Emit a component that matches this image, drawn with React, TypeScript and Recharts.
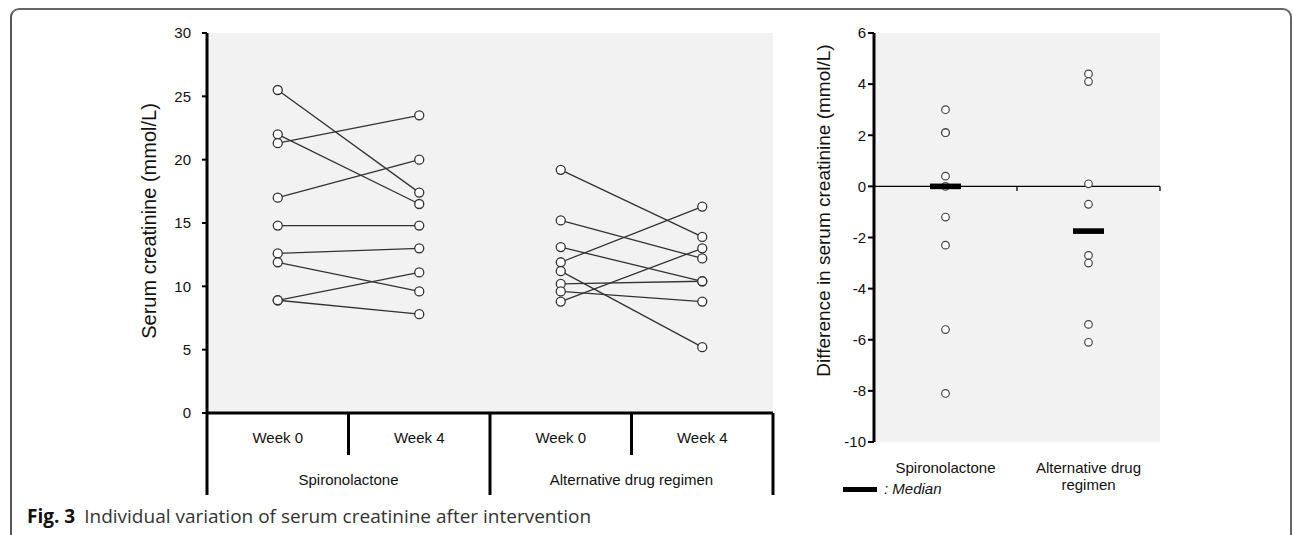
import React from 'react';
import { LineChart, Line, XAxis, YAxis, CartesianGrid, ScatterChart, Scatter, ReferenceLine, Text } from 'recharts';

// left panel: paired serum creatinine values
const timepoints = ['Week 0', 'Week 4', 'Week 0', 'Week 4'];
const groups = ['Spironolactone', 'Spironolactone', 'Alternative drug regimen', 'Alternative drug regimen'];

const spiroWeek0 = [25.5, 22.0, 21.3, 17.0, 14.8, 12.6, 11.9, 8.9, 8.9];
const spiroWeek4 = [17.4, 16.5, 23.5, 20.0, 14.8, 13.0, 9.6, 11.1, 7.8];
const altWeek0 = [19.2, 15.2, 13.1, 11.9, 11.2, 10.2, 9.6, 8.8];
const altWeek4 = [13.9, 12.2, 10.4, 16.3, 5.2, 10.4, 8.8, 13.0];

const creatinineTicks = [0, 5, 10, 15, 20, 25, 30];

// right panel: differences + medians
const diffGroups = ['Spironolactone', 'Alternative drug regimen'];
const diffGroupPos = [0.5, 1.5];
const spiroDiff = [3.0, 2.1, 2.1, 0.4, 0.0, -1.2, -2.3, -5.6, -8.1];
const altDiff = [4.4, 4.1, 0.1, -0.7, -2.7, -3.0, -5.4, -6.1];
const medians = [0, -1.75];
const diffTicks = [-10, -8, -6, -4, -2, 0, 2, 4, 6];

const FONT = '"Liberation Sans", Arial, sans-serif';
const INK = '#111';
const LINE = '#333';

const lineRows = timepoints.map((week, i) => {
  const row: Record<string, any> = { slot: i, week, group: groups[i] };
  spiroWeek0.forEach((v, j) => {
    row[`s${j}`] = i === 0 ? v : i === 1 ? spiroWeek4[j] : null;
  });
  altWeek0.forEach((v, j) => {
    row[`a${j}`] = i === 2 ? v : i === 3 ? altWeek4[j] : null;
  });
  return row;
});
const seriesKeys = [...spiroWeek0.map((_, j) => `s${j}`), ...altWeek0.map((_, j) => `a${j}`)];

const spiroPoints = spiroDiff.map((y) => ({ x: diffGroupPos[0], y }));
const altPoints = altDiff.map((y) => ({ x: diffGroupPos[1], y }));
const medianPoints = medians.map((y, i) => ({ x: diffGroupPos[i], y }));

// half a category band in the left panel
const HALF = (773 - 207) / 8;

const WeekTick = (props: any) => {
  const { x, y, payload } = props;
  const i = Number(payload.value);
  const lastInGroup = i === 1 || i === 3;
  return (
    <g>
      {i === 0 && <line x1={x - HALF} x2={x - HALF} y1={y} y2={y + 82} stroke="#000" strokeWidth={3} />}
      <line x1={x + HALF} x2={x + HALF} y1={y} y2={y + (lastInGroup ? 82 : 42)} stroke="#000" strokeWidth={3} />
      <text x={x} y={y + 30} textAnchor="middle" fontSize={15} fill={INK}>{timepoints[i]}</text>
      {lastInGroup && (
        <text x={x - HALF} y={y + 72} textAnchor="middle" fontSize={15} fill={INK}>{groups[i]}</text>
      )}
    </g>
  );
};

const GroupTick = (props: any) => {
  const { x, y, payload } = props;
  const i = diffGroupPos.indexOf(payload.value);
  return (
    <Text x={x} y={y + 20} width={140} textAnchor="middle" verticalAnchor="start" lineHeight={17} fontSize={15} fill={INK}>
      {diffGroups[i]}
    </Text>
  );
};

const axisTitle = (text: string, dx: number, dy: number, size: number) => (props: any) => {
  const { x, y, height } = props.viewBox;
  const cx = x + dx;
  const cy = y + height / 2 + dy;
  return (
    <text x={cx} y={cy} transform={`rotate(-90 ${cx} ${cy})`} textAnchor="middle" fontSize={size} fill={INK}>
      {text}
    </text>
  );
};

const hollowDot = (p: any) => (
  <circle cx={p.cx} cy={p.cy} r={3.8} fill="#fff" stroke="#444" strokeWidth={1.2} />
);
const medianBar = (p: any) => <rect x={p.cx - 15.5} y={p.cy - 2.8} width={31} height={5.6} fill="#000" />;

export default function App() {
  return (
    <div style={{ position: 'absolute', left: 0, top: 0, width: 1293, height: 535, overflow: 'hidden', background: '#fff', fontFamily: FONT }}>
      <div
        style={{
          position: 'absolute', left: 10, top: 8, width: 1282, height: 580, boxSizing: 'border-box',
          borderTop: '2px solid #666', borderLeft: '2px solid #555', borderRight: '2px solid #666', borderRadius: 9,
        }}
      />

      <div style={{ position: 'absolute', left: 0, top: 0 }}>
        <LineChart width={790} height={535} data={lineRows} margin={{ top: 33, right: 17, bottom: 32, left: 147 }} style={{ fontFamily: FONT }}>
          <CartesianGrid fill="#f2f2f2" horizontal={false} vertical={false} />
          <XAxis
            dataKey="slot"
            type="category"
            scale="band"
            height={90}
            axisLine={{ stroke: '#000', strokeWidth: 3 }}
            tickLine={false}
            tickSize={0}
            tickMargin={0}
            interval={0}
            tick={WeekTick}
          />
          <YAxis
            width={60}
            domain={[0, 30]}
            ticks={creatinineTicks}
            interval={0}
            axisLine={{ stroke: '#000', strokeWidth: 3 }}
            tickLine={{ stroke: '#000', strokeWidth: 2 }}
            tickSize={5}
            tickMargin={11}
            tick={{ fontSize: 15, fill: INK }}
            label={axisTitle('Serum creatinine (mmol/L)', 9, -2, 20)}
          />
          {seriesKeys.map((k) => (
            <Line
              key={k}
              dataKey={k}
              stroke={LINE}
              strokeWidth={1.3}
              connectNulls={false}
              dot={{ r: 4.5, fill: '#fff', stroke: LINE, strokeWidth: 1.3 }}
              activeDot={false}
              isAnimationActive={false}
            />
          ))}
        </LineChart>
      </div>

      <div style={{ position: 'absolute', left: 790, top: 0 }}>
        <ScatterChart width={503} height={535} margin={{ top: 33, right: 133, bottom: 33, left: 44 }} style={{ fontFamily: FONT }}>
          <CartesianGrid fill="#f2f2f2" horizontal={false} vertical={false} />
          <XAxis
            dataKey="x"
            type="number"
            domain={[0, 2]}
            ticks={diffGroupPos}
            interval={0}
            height={60}
            axisLine={false}
            tickLine={false}
            tickSize={0}
            tickMargin={0}
            tick={GroupTick}
          />
          <YAxis
            dataKey="y"
            type="number"
            width={40}
            domain={[-10, 6]}
            ticks={diffTicks}
            interval={0}
            axisLine={{ stroke: '#000', strokeWidth: 3 }}
            tickLine={{ stroke: '#000', strokeWidth: 2 }}
            tickSize={6}
            tickMargin={2}
            tick={{ fontSize: 15, fill: INK }}
            label={axisTitle('Difference in serum creatinine (mmol/L)', -4, -27, 19)}
          />
          <ReferenceLine y={0} stroke="#000" strokeWidth={1.3} />
          <ReferenceLine segment={[{ x: 1, y: 0 }, { x: 1, y: -0.18 }]} stroke="#000" strokeWidth={1.3} ifOverflow="visible" />
          <ReferenceLine segment={[{ x: 2, y: 0 }, { x: 2, y: -0.18 }]} stroke="#000" strokeWidth={1.3} ifOverflow="visible" />
          <Scatter data={spiroPoints} shape={hollowDot} isAnimationActive={false} />
          <Scatter data={altPoints} shape={hollowDot} isAnimationActive={false} />
          <Scatter data={medianPoints} shape={medianBar} isAnimationActive={false} />
        </ScatterChart>
      </div>

      {/* median key */}
      <div style={{ position: 'absolute', left: 843, top: 486.5, width: 34, height: 5, background: '#000' }} />
      <div style={{ position: 'absolute', left: 884, top: 480, fontSize: 15, lineHeight: '18px', fontStyle: 'italic', color: INK }}>
        : Median
      </div>

      <div
        style={{
          position: 'absolute', left: 27, top: 506, fontFamily: '"Open Sans", sans-serif', fontSize: 19,
          lineHeight: '20px', color: '#333', whiteSpace: 'nowrap',
        }}
      >
        <b style={{ color: '#111' }}>Fig. 3</b>
        <span style={{ marginLeft: 9 }}>Individual variation of serum creatinine after intervention</span>
      </div>
    </div>
  );
}
